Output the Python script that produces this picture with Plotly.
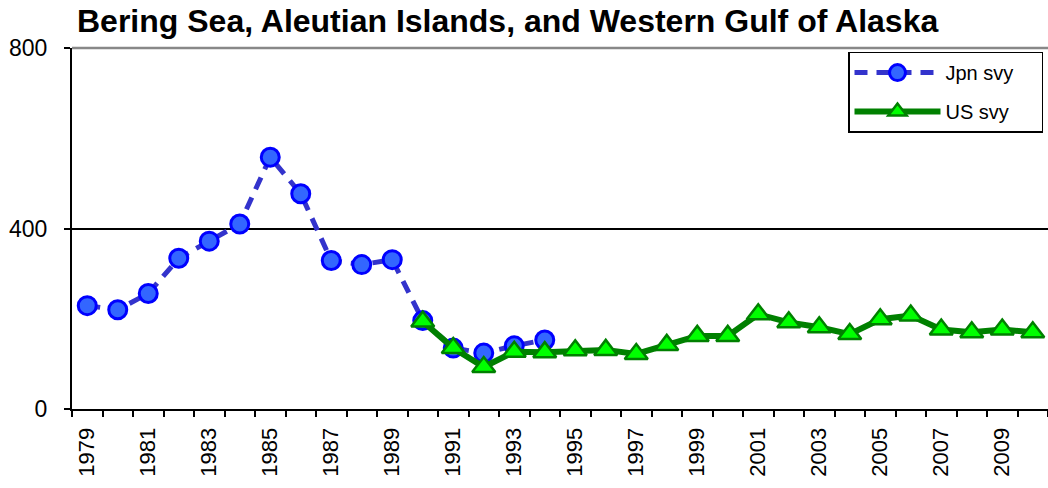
import plotly.graph_objects as go

years = list(range(1979, 2011))
jpn_years = list(range(1979, 1995))
jpn_vals = [229, 220, 256, 334, 372, 410, 558, 477, 329, 320, 331, 196, 135, 124, 140, 153]
us_years = list(range(1990, 2011))
us_vals = [194, 135, 93, 127, 126, 130, 131, 122, 142, 162, 162, 210, 192, 181, 166, 199, 207, 176, 170, 176, 170]
x_tick_vals = list(range(1979, 2011, 2))
x_tick_text = [str(y) for y in x_tick_vals]
y_tick_vals = [0, 400, 800]
pad = "\u00a0" * 4

fig = go.Figure()
fig.add_trace(go.Scatter(
    x=jpn_years, y=jpn_vals, name="Jpn svy" + pad, mode="lines+markers",
    line=dict(color="#3333CC", width=5, dash="13px,9px"),
    marker=dict(symbol="circle", size=18, color="#3366FF", line=dict(color="#0000FF", width=3)),
    legendgroup="a",
))
fig.add_trace(go.Scatter(
    x=us_years, y=us_vals, name="US svy" + pad, mode="lines+markers",
    line=dict(color="#008000", width=6),
    marker=dict(symbol="triangle-up", size=20, color="#00FF00", line=dict(color="#008000", width=2.5)),
    legendgroup="b",
))

fig.update_layout(
    width=1048, height=488,
    margin=dict(l=72, r=0, t=48, b=79),
    paper_bgcolor="white", plot_bgcolor="white",
    font=dict(family="Arial, Liberation Sans, sans-serif", color="black"),
    title=dict(text="<b>Bering Sea, Aleutian Islands, and Western Gulf of Alaska</b>",
               font=dict(size=32, color="black"),
               x=77/1048, xref="container", xanchor="left",
               y=1-21/488, yref="container", yanchor="middle"),
    showlegend=True,
    legend=dict(x=(848-72)/976, y=0.99, xanchor="left", yanchor="top",
                bordercolor="black", borderwidth=1.5, bgcolor="white",
                font=dict(size=20), traceorder="grouped", tracegroupgap=10,
                itemwidth=86),
    xaxis=dict(range=[1978.5, 2010.5], tickvals=x_tick_vals, ticktext=x_tick_text,
               tickangle=-90, ticks="", tickfont=dict(size=22),
               showgrid=False, zeroline=False, showline=True, linecolor="black", linewidth=2,
               minor=dict(tick0=1978.5, dtick=1, ticks="outside", ticklen=6, tickwidth=1.5,
                          tickcolor="black", showgrid=False),
               ticklabelstandoff=8),
    yaxis=dict(range=[0, 800], tickvals=y_tick_vals, ticks="outside", ticklen=6,
               tickwidth=1.5, tickcolor="black", tickfont=dict(size=23),
               showgrid=True, gridcolor="black", gridwidth=1.5, zeroline=False,
               showline=True, linecolor="black", linewidth=2, ticklabelstandoff=12),
)
fig.add_shape(type="line", xref="paper", yref="paper", x0=0, x1=1, y0=1, y1=1,
              line=dict(color="#888888", width=2.5), layer="above")

fig.write_html("out.html", config={"displayModeBar": False},
               post_script="document.body.style.margin='0';document.body.style.overflow='hidden';")
